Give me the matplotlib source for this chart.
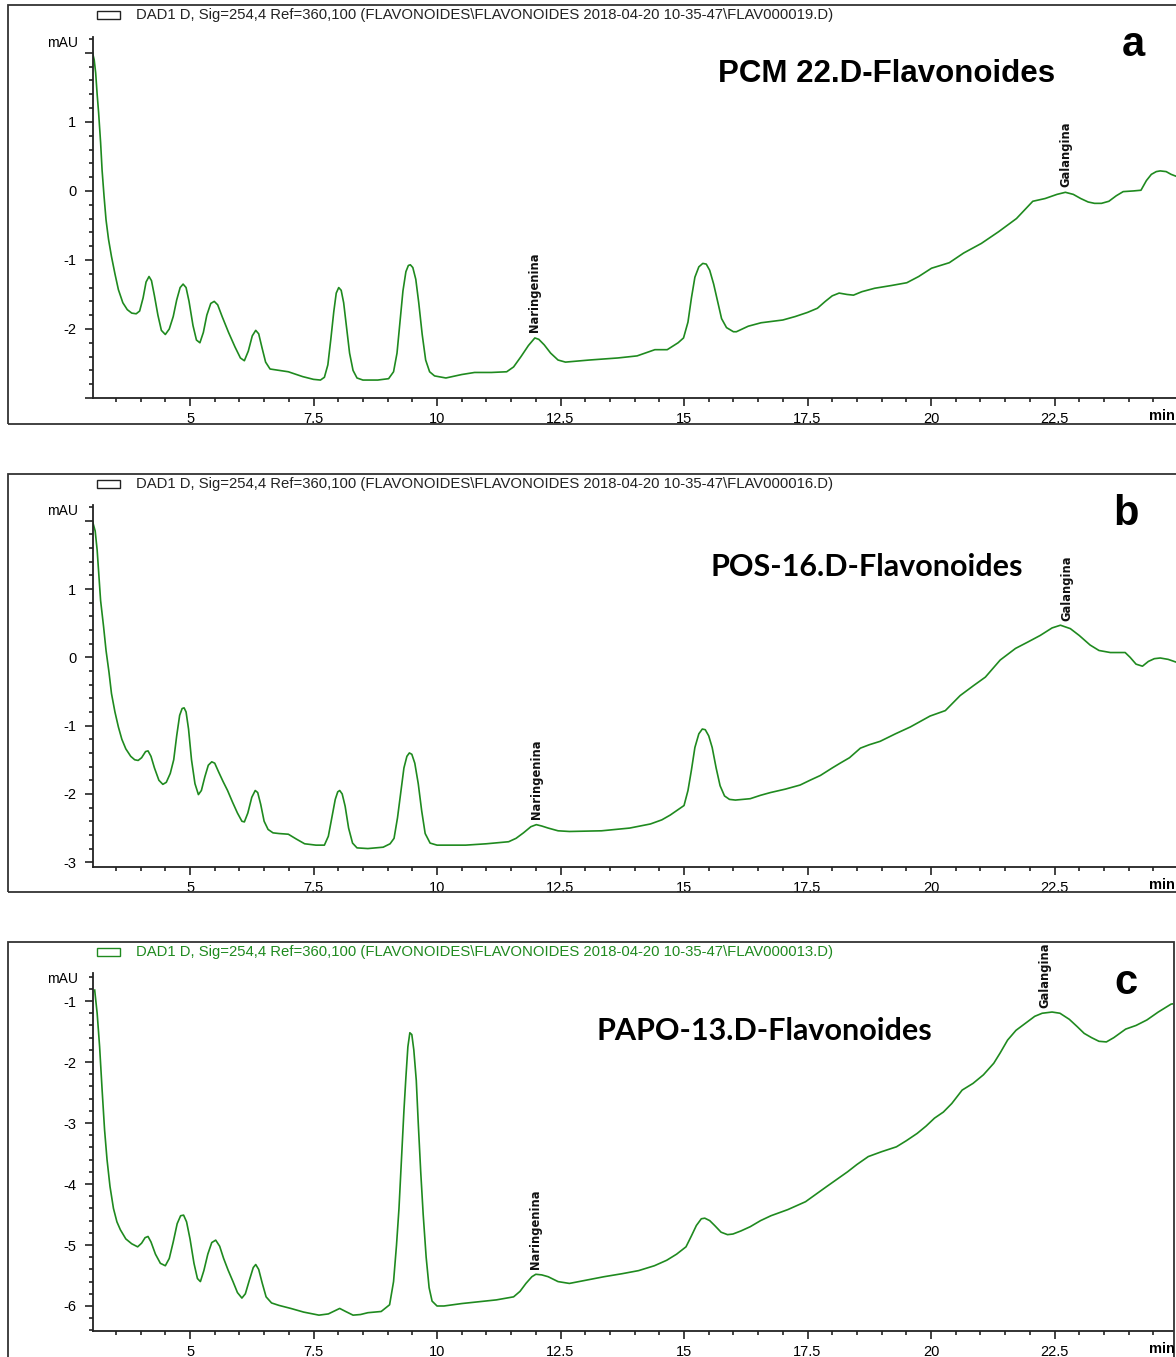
import matplotlib
matplotlib.use("Agg")
import matplotlib.pyplot as plt
from matplotlib.patches import Rectangle
from matplotlib.ticker import MultipleLocator, FuncFormatter

plt.rcParams['font.family'] = ['Liberation Sans', 'DejaVu Sans']
plt.rcParams['axes.unicode_minus'] = False

# ---- data (time in min, signal in mAU) ----
t_a = [3.02, 3.06, 3.09, 3.12, 3.15, 3.19, 3.22, 3.26, 3.30, 3.35, 3.41, 3.48, 3.55, 3.64,
       3.73, 3.82, 3.91, 3.98, 4.05, 4.11, 4.17, 4.22, 4.28, 4.35, 4.42, 4.50, 4.58, 4.66,
       4.73, 4.80, 4.86, 4.92, 4.98, 5.06, 5.13, 5.20, 5.27, 5.34, 5.42, 5.49, 5.56, 5.65,
       5.78, 5.91, 6.02, 6.10, 6.18, 6.26, 6.33, 6.39, 6.46, 6.53, 6.62, 6.80, 6.99, 7.28,
       7.50, 7.64, 7.72, 7.79, 7.85, 7.91, 7.96, 8.01, 8.06, 8.11, 8.17, 8.23, 8.30, 8.38,
       8.50, 8.80, 9.02, 9.12, 9.19, 9.25, 9.31, 9.37, 9.42, 9.46, 9.51, 9.57, 9.63, 9.70,
       9.77, 9.85, 9.95, 10.18, 10.50, 10.76, 11.10, 11.41, 11.55, 11.70, 11.85, 11.98,
       12.06, 12.17, 12.30, 12.45, 12.60, 13.08, 13.66, 14.05, 14.41, 14.66, 14.88, 14.99,
       15.08, 15.15, 15.22, 15.30, 15.38, 15.45, 15.52, 15.60, 15.68, 15.76, 15.86, 16.00,
       16.06, 16.30, 16.56, 17.0, 17.25, 17.5, 17.70, 17.86, 18.00, 18.14, 18.30, 18.43,
       18.60, 18.86, 19.20, 19.51, 19.75, 20.01, 20.37, 20.66, 21.02, 21.37, 21.73, 21.90,
       22.06, 22.31, 22.55, 22.72, 22.88, 23.03, 23.18, 23.31, 23.45, 23.60, 23.75, 23.89,
       24.10, 24.25, 24.36, 24.46, 24.56, 24.64, 24.76, 24.86, 24.97]
v_a = [2.02, 1.90, 1.71, 1.40, 1.13, 0.70, 0.30, -0.08, -0.42, -0.70, -0.95, -1.20, -1.43,
       -1.62, -1.72, -1.77, -1.78, -1.74, -1.55, -1.32, -1.24, -1.30, -1.52, -1.80, -2.02,
       -2.08, -2.00, -1.82, -1.58, -1.40, -1.35, -1.40, -1.60, -1.95, -2.16, -2.20, -2.05,
       -1.80, -1.63, -1.60, -1.65, -1.82, -2.05, -2.26, -2.42, -2.46, -2.32, -2.10, -2.02,
       -2.07, -2.28, -2.48, -2.58, -2.60, -2.62, -2.69, -2.73, -2.74, -2.70, -2.52, -2.15,
       -1.75, -1.48, -1.40, -1.44, -1.62, -1.98, -2.35, -2.60, -2.71, -2.74, -2.74, -2.72,
       -2.62, -2.35, -1.90, -1.45, -1.17, -1.08, -1.07, -1.11, -1.28, -1.62, -2.08, -2.45,
       -2.62, -2.68, -2.71, -2.66, -2.63, -2.63, -2.62, -2.55, -2.40, -2.24, -2.13, -2.15,
       -2.23, -2.35, -2.45, -2.48, -2.45, -2.42, -2.39, -2.30, -2.30, -2.20, -2.13, -1.90,
       -1.55, -1.25, -1.10, -1.05, -1.06, -1.15, -1.35, -1.60, -1.85, -1.98, -2.04, -2.04,
       -1.96, -1.91, -1.87, -1.82, -1.76, -1.70, -1.60, -1.52, -1.48, -1.50, -1.51, -1.46,
       -1.41, -1.37, -1.33, -1.24, -1.12, -1.04, -0.90, -0.76, -0.59, -0.40, -0.27, -0.15,
       -0.11, -0.05, -0.02, -0.05, -0.11, -0.16, -0.18, -0.18, -0.15, -0.07, -0.01, 0.00,
       0.01, 0.15, 0.24, 0.28, 0.29, 0.28, 0.24, 0.21]

t_b = [3.03, 3.08, 3.12, 3.15, 3.19, 3.25, 3.30, 3.36, 3.41, 3.48, 3.55, 3.62, 3.70, 3.80,
       3.88, 3.95, 4.02, 4.10, 4.15, 4.21, 4.28, 4.37, 4.45, 4.52, 4.60, 4.67, 4.73, 4.79,
       4.84, 4.88, 4.92, 4.97, 5.03, 5.10, 5.17, 5.23, 5.30, 5.37, 5.44, 5.50, 5.58, 5.67,
       5.76, 5.86, 5.96, 6.05, 6.10, 6.17, 6.25, 6.32, 6.37, 6.43, 6.50, 6.58, 6.68, 6.80,
       6.99, 7.15, 7.32, 7.55, 7.72, 7.80, 7.87, 7.94, 7.99, 8.03, 8.08, 8.14, 8.21, 8.29,
       8.38, 8.60, 8.91, 9.05, 9.13, 9.20, 9.27, 9.33, 9.39, 9.44, 9.49, 9.55, 9.62, 9.69,
       9.76, 9.86, 10.0, 10.58, 11.00, 11.45, 11.60, 11.75, 11.90, 12.01, 12.12, 12.25,
       12.45, 12.68, 13.33, 13.90, 14.32, 14.55, 14.72, 14.90, 15.0, 15.08, 15.15, 15.22,
       15.30, 15.37, 15.43, 15.50, 15.57, 15.65, 15.73, 15.82, 15.92, 16.04, 16.34, 16.55,
       16.75, 17.05, 17.35, 17.55, 17.76, 18.00, 18.16, 18.35, 18.57, 18.75, 18.97, 19.28,
       19.58, 19.98, 20.29, 20.59, 20.85, 21.10, 21.40, 21.71, 21.95, 22.21, 22.45, 22.62,
       22.82, 23.00, 23.22, 23.40, 23.63, 23.93, 24.03, 24.15, 24.28, 24.40, 24.52, 24.64,
       24.80, 24.96]
v_b = [1.98, 1.85, 1.57, 1.25, 0.83, 0.45, 0.10, -0.22, -0.53, -0.80, -1.02, -1.20, -1.34,
       -1.45, -1.50, -1.51, -1.47, -1.38, -1.37, -1.45, -1.62, -1.80, -1.86, -1.83, -1.70,
       -1.50, -1.15, -0.85, -0.75, -0.74, -0.80, -1.05, -1.50, -1.85, -2.01, -1.95, -1.75,
       -1.58, -1.53, -1.55, -1.68, -1.82, -1.95, -2.12, -2.28, -2.40, -2.41, -2.28, -2.05,
       -1.95, -1.98, -2.15, -2.40, -2.52, -2.57, -2.58, -2.59, -2.66, -2.73, -2.75, -2.75,
       -2.62, -2.35, -2.08, -1.97, -1.95, -2.00, -2.18, -2.50, -2.72, -2.79, -2.80, -2.78,
       -2.73, -2.65, -2.35, -1.95, -1.62, -1.45, -1.40, -1.42, -1.55, -1.85, -2.25, -2.58,
       -2.72, -2.75, -2.75, -2.73, -2.70, -2.65, -2.57, -2.48, -2.45, -2.47, -2.50, -2.54,
       -2.55, -2.54, -2.50, -2.44, -2.38, -2.31, -2.22, -2.17, -1.95, -1.65, -1.32, -1.12,
       -1.05, -1.06, -1.15, -1.32, -1.62, -1.88, -2.03, -2.08, -2.09, -2.07, -2.02, -1.98,
       -1.93, -1.87, -1.80, -1.73, -1.62, -1.55, -1.47, -1.33, -1.28, -1.23, -1.12, -1.02,
       -0.86, -0.78, -0.56, -0.42, -0.29, -0.04, 0.13, 0.22, 0.32, 0.43, 0.47, 0.42, 0.32,
       0.18, 0.10, 0.07, 0.07, 0.00, -0.10, -0.13, -0.06, -0.02, -0.01, -0.03, -0.07]

t_c = [3.07, 3.12, 3.17, 3.22, 3.27, 3.32, 3.38, 3.45, 3.52, 3.59, 3.70, 3.82, 3.94, 4.02,
       4.09, 4.15, 4.21, 4.30, 4.40, 4.50, 4.58, 4.66, 4.74, 4.81, 4.87, 4.93, 5.00, 5.08,
       5.15, 5.21, 5.28, 5.36, 5.44, 5.52, 5.60, 5.68, 5.77, 5.87, 5.96, 6.05, 6.12, 6.20,
       6.28, 6.33, 6.39, 6.46, 6.54, 6.65, 6.80, 7.04, 7.30, 7.61, 7.80, 7.93, 8.03, 8.15,
       8.30, 8.45, 8.60, 8.87, 9.04, 9.12, 9.18, 9.23, 9.28, 9.33, 9.37, 9.41, 9.45, 9.49,
       9.53, 9.58, 9.62, 9.67, 9.72, 9.78, 9.84, 9.90, 10.00, 10.14, 10.50, 10.85, 11.20,
       11.55, 11.68, 11.80, 11.92, 12.00, 12.12, 12.25, 12.45, 12.68, 13.00, 13.38, 13.75,
       14.08, 14.40, 14.65, 14.85, 15.04, 15.15, 15.25, 15.35, 15.42, 15.52, 15.62, 15.75,
       15.88, 15.99, 16.15, 16.34, 16.55, 16.76, 17.10, 17.46, 17.70, 17.89, 18.10, 18.31,
       18.50, 18.73, 19.00, 19.30, 19.50, 19.72, 19.90, 20.07, 20.25, 20.42, 20.63, 20.85,
       21.06, 21.27, 21.40, 21.55, 21.72, 21.90, 22.10, 22.25, 22.45, 22.61, 22.80, 22.96,
       23.10, 23.25, 23.40, 23.55, 23.70, 23.94, 24.15, 24.37, 24.60, 24.86, 24.95, 25.04]
v_c = [-0.82, -1.20, -1.75, -2.45, -3.11, -3.60, -4.04, -4.40, -4.62, -4.75, -4.90, -4.98,
       -5.03, -4.97, -4.88, -4.86, -4.95, -5.15, -5.30, -5.34, -5.22, -4.95, -4.65, -4.52,
       -4.51, -4.62, -4.90, -5.30, -5.55, -5.60, -5.42, -5.15, -4.96, -4.92, -5.02, -5.22,
       -5.41, -5.60, -5.78, -5.87, -5.80, -5.58, -5.37, -5.32, -5.40, -5.62, -5.85, -5.95,
       -5.99, -6.04, -6.10, -6.15, -6.13, -6.08, -6.04, -6.09, -6.15, -6.14, -6.11, -6.09,
       -5.98, -5.60, -5.00, -4.40, -3.60, -2.80, -2.25, -1.75, -1.52, -1.55, -1.80, -2.30,
       -3.00, -3.80, -4.50, -5.20, -5.70, -5.92, -6.00, -6.00, -5.96, -5.93, -5.90, -5.85,
       -5.76, -5.63, -5.52, -5.48, -5.49, -5.52, -5.60, -5.63, -5.58, -5.52, -5.47, -5.42,
       -5.34, -5.25, -5.15, -5.03, -4.85, -4.68, -4.57, -4.56, -4.60, -4.68, -4.79, -4.83,
       -4.82, -4.77, -4.70, -4.60, -4.52, -4.42, -4.29, -4.15, -4.04, -3.92, -3.80, -3.68,
       -3.55, -3.47, -3.39, -3.29, -3.17, -3.05, -2.92, -2.82, -2.68, -2.46, -2.35, -2.21,
       -2.02, -1.85, -1.64, -1.48, -1.37, -1.25, -1.20, -1.18, -1.20, -1.30, -1.42, -1.53,
       -1.60, -1.66, -1.67, -1.60, -1.46, -1.40, -1.31, -1.18, -1.05, -1.04, -1.10]

titles = ["PCM 22.D-Flavonoides", "POS-16.D-Flavonoides", "PAPO-13.D-Flavonoides"]
letters = ["a", "b", "c"]
files = ["FLAV000019.D", "FLAV000016.D", "FLAV000013.D"]
peak_names = ["Naringenina", "Galangina"]
peak_times = [(11.98, 22.72), (12.01, 22.74), (12.00, 22.31)]
peak_vals = [(-2.13, -0.02), (-2.45, 0.45), (-5.48, -1.20)]
ytick_labelled = [[-2, -1, 0, 1], [-3, -2, -1, 0, 1], [-6, -5, -4, -3, -2, -1]]

# ---- layout (pixel positions of the original screenshot) ----
W, H = 1176, 1357
GREEN = "#1f8a1f"

def fx(x):
    return x / W

def fy(y):
    return 1 - y / H

box_y = [(5, 424), (474, 892), (942, 1362)]
box_right = [1185, 1185, 1174]
ax_y = [(37, 398), (505, 867), (973, 1331)]
ax_right = [1176, 1176, 1173]
ylims = [(-3.0, 2.23), (-3.07, 2.23), (-6.41, -0.54)]
title_xy = [(887, 74), (867, 567), (764, 1031)]
letter_xy = [(1133, 45), (1126, 514), (1126, 983)]
header_col = ["#222222", "#222222", GREEN]

fig = plt.figure(figsize=(W / 100, H / 100), dpi=100)

for i, (tt, vv) in enumerate([(t_a, v_a), (t_b, v_b), (t_c, v_c)]):
    # outer frame
    y0, y1 = box_y[i]
    fig.add_artist(Rectangle((fx(8), fy(y1)), fx(box_right[i] - 8), (y1 - y0) / H,
                             transform=fig.transFigure, fill=False, ec="#333333", lw=1.3))
    # header line with small legend box
    hy = y0 + 10 if i else 15
    fig.add_artist(Rectangle((fx(97), fy(hy + 4)), fx(23), 8 / H, transform=fig.transFigure,
                             fill=False, ec=header_col[i], lw=1.0))
    fig.text(fx(136), fy(hy), "DAD1 D, Sig=254,4 Ref=360,100 (FLAVONOIDES\\FLAVONOIDES "
             "2018-04-20 10-35-47\\" + files[i] + ")", fontsize=10.7, color=header_col[i],
             ha="left", va="center")

    a0, a1 = ax_y[i]
    ax = fig.add_axes([fx(93), fy(a1), fx(ax_right[i] - 93), (a1 - a0) / H])
    ax.plot(tt, vv, color=GREEN, lw=1.2)
    ax.set_xlim(3.036, 3.036 + (ax_right[i] - 93) / 49.4)
    ax.set_ylim(*ylims[i])
    ax.patch.set_alpha(0)
    for s in ["top", "right"]:
        ax.spines[s].set_visible(False)
    for s in ["left", "bottom"]:
        ax.spines[s].set_linewidth(1.3)
        ax.spines[s].set_color("#222222")
    ax.xaxis.set_major_locator(MultipleLocator(2.5))
    ax.xaxis.set_minor_locator(MultipleLocator(0.5))
    ax.yaxis.set_major_locator(MultipleLocator(1))
    ax.yaxis.set_minor_locator(MultipleLocator(0.2))
    ax.xaxis.set_major_formatter(FuncFormatter(lambda v, p: f"{v:g}"))
    labelled = ytick_labelled[i]
    ax.yaxis.set_major_formatter(FuncFormatter(
        lambda v, p, lab=labelled: f"{v:g}" if round(v) in lab else ""))
    ax.tick_params(which="major", length=6, width=1.2, labelsize=10.5, pad=4, color="#222222")
    ax.tick_params(which="minor", length=3, width=1.2, color="#222222")
    ax.tick_params(axis="y", pad=6)

    for k in range(2):
        ax.annotate(peak_names[k], xy=(peak_times[i][k], peak_vals[i][k]), xytext=(0, 4),
                    textcoords="offset points", rotation=90, ha="center", va="bottom",
                    fontsize=8.3, fontweight="bold", family="DejaVu Sans", color="#111111")

    fig.text(fx(78), fy(a0 + 6), "mAU", fontsize=10, ha="right", va="center")
    fig.text(fx(1149), fy(a1 + 18), "min", fontsize=10.5, fontweight="bold",
             ha="left", va="center")

    if i == 0:
        fig.text(fx(title_xy[i][0]), fy(title_xy[i][1]), titles[i], fontsize=22.5,
                 fontweight="bold", ha="center", va="center")
    else:
        fig.text(fx(title_xy[i][0]), fy(title_xy[i][1]), titles[i], fontsize=22,
                 fontweight="bold", family="Lato", ha="center", va="center")
    fig.text(fx(letter_xy[i][0]), fy(letter_xy[i][1]), letters[i], fontsize=30,
             fontweight="bold", ha="center", va="center")

fig.savefig("out.png", dpi=100)
